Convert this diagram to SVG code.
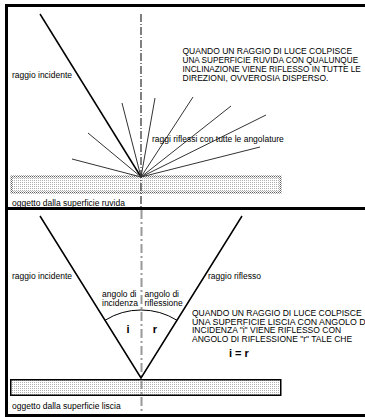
<svg xmlns="http://www.w3.org/2000/svg" width="365" height="417" viewBox="0 0 365 417">
<defs>
<pattern id="dots" width="2" height="2" patternUnits="userSpaceOnUse">
<rect width="2" height="2" fill="#ffffff"/>
<rect width="1" height="1" fill="#b0b0b0"/>
</pattern>
<pattern id="checker" width="2" height="2" patternUnits="userSpaceOnUse">
<rect width="2" height="2" fill="#ffffff"/>
<rect width="1" height="1" fill="#606060"/>
<rect x="1" y="1" width="1" height="1" fill="#606060"/>
</pattern>
<style>
text{font-family:"Liberation Sans",Arial,sans-serif;font-size:8.5px;fill:#000}
.sm{font-size:8.2px}
.big{font-size:11px;font-weight:bold}
.ray{stroke:#333;stroke-width:1;fill:none}
.inc{stroke:#000;stroke-width:1.5;fill:none}
</style>
</defs>
<rect width="365" height="417" fill="#fff"/>

<g id="upper-panel">
<g id="surface-rough">
<rect x="11.5" y="176.5" width="269" height="16" fill="url(#dots)" stroke="url(#checker)" stroke-width="2"/>
</g>
<g id="connectors-upper">
<line x1="141" y1="14" x2="141" y2="207" stroke="#000" stroke-width="1" stroke-dasharray="8,2,1,2"/>
<line class="inc" x1="40" y1="14" x2="141" y2="177"/>
<line class="ray" x1="141" y1="177" x2="72" y2="159"/>
<line class="ray" x1="141" y1="177" x2="88" y2="133"/>
<line class="ray" x1="141" y1="177" x2="122" y2="103"/>
<line class="ray" x1="141" y1="177" x2="155" y2="98"/>
<line class="ray" x1="141" y1="177" x2="193" y2="97"/>
<line class="ray" x1="141" y1="177" x2="231" y2="106"/>
<line class="ray" x1="141" y1="177" x2="266" y2="115"/>
<line class="ray" x1="141" y1="177" x2="260" y2="147"/>
</g>
<g id="labels-upper">
<text x="12" y="78">raggio incidente</text>
<text x="152" y="142">raggi riflessi con tutte le angolature</text>
<text x="12" y="206">oggetto dalla superficie ruvida</text>
<text x="182.5" y="53.5">QUANDO UN RAGGIO DI LUCE COLPISCE</text>
<text class="sm" x="182.5" y="62.5">UNA SUPERFICIE RUVIDA CON QUALUNQUE</text>
<text class="sm" x="182.5" y="71.5">INCLINAZIONE VIENE RIFLESSO IN TUTTE LE</text>
<text x="182.5" y="80.5">DIREZIONI, OVVEROSIA DISPERSO.</text>
</g>
</g>

<g id="lower-panel">
<g id="surface-smooth">
<rect x="10.75" y="379.75" width="270" height="15.5" fill="url(#dots)" stroke="#000" stroke-width="1.5"/>
</g>
<g id="connectors-lower">
<line x1="141.5" y1="210" x2="141.5" y2="414" stroke="#999" stroke-width="2" stroke-dasharray="9,3,2,3"/>
<polyline class="inc" points="40,216 141,378 242,216"/>
<path d="M105,320.3 A68,68 0 0 1 177,320.3" fill="none" stroke="#000" stroke-width="1"/>
</g>
<g id="labels-lower">
<text x="12" y="279">raggio incidente</text>
<text x="208" y="279">raggio riflesso</text>
<text x="102" y="297">angolo di</text>
<text x="102" y="306">incidenza</text>
<text x="144.5" y="297">angolo di</text>
<text x="144.5" y="306">riflessione</text>
<text class="big" x="128" y="333" text-anchor="middle">i</text>
<text class="big" x="155" y="333" text-anchor="middle">r</text>
<text x="192" y="316">QUANDO UN RAGGIO DI LUCE COLPISCE</text>
<text x="192" y="324.7" textLength="176" lengthAdjust="spacingAndGlyphs">UNA SUPERFICIE LISCIA CON ANGOLO DI</text>
<text x="192" y="333.3">INCIDENZA "i" VIENE RIFLESSO CON</text>
<text x="192" y="342">ANGOLO DI RIFLESSIONE "r" TALE CHE</text>
<text class="big" x="229" y="357">i = r</text>
<text x="12" y="409">oggetto dalla superficie liscia</text>
</g>
</g>

<g id="frame">
<rect x="5" y="4" width="3" height="413" fill="#000"/>
<rect x="5" y="4" width="360" height="3" fill="#000"/>
<rect x="5" y="207" width="360" height="3" fill="#000"/>
<rect x="5" y="414" width="360" height="3" fill="#000"/>
</g>
</svg>
